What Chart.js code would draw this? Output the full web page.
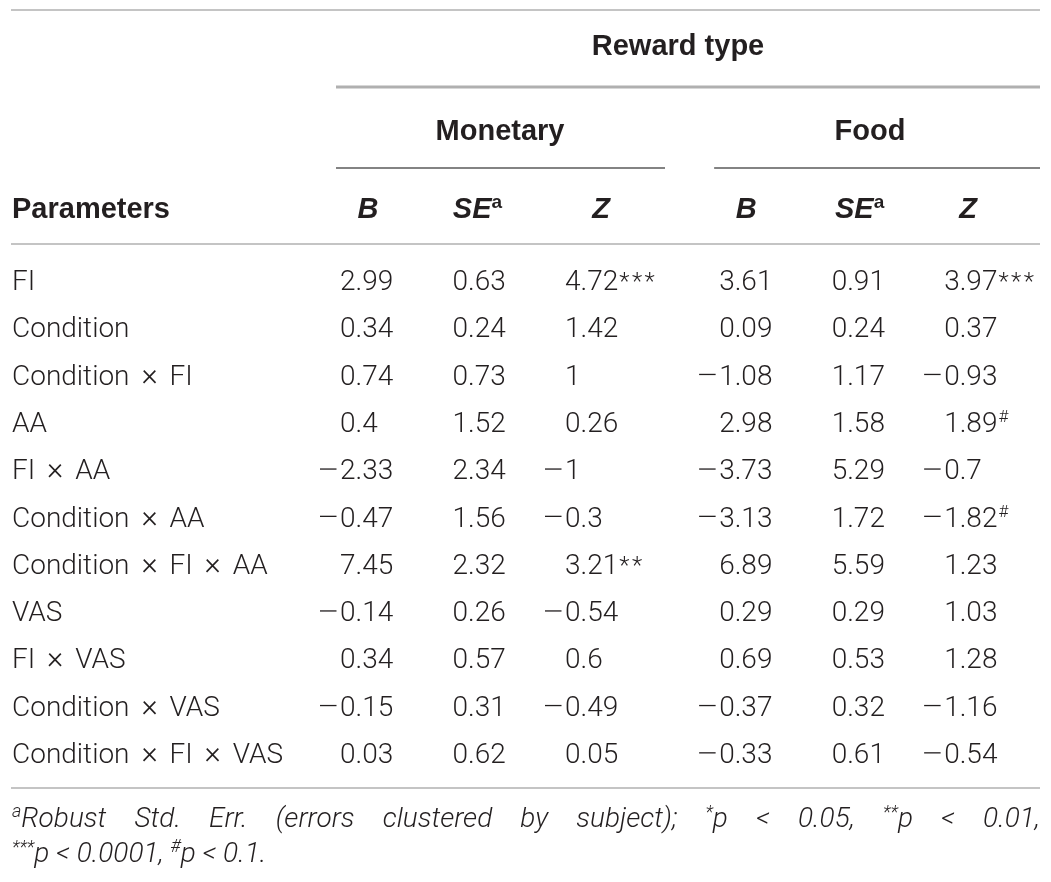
<!DOCTYPE html>
<html>
<head>
<meta charset="utf-8">
<script src="https://cdn.jsdelivr.net/npm/chart.js@4.4.1/dist/chart.umd.min.js"></script>
<style>
  html, body { margin: 0; padding: 0; background: #fff; }
  #wrap { width: 1051px; height: 882px; position: relative; }
</style>
</head>
<body>
<div id="wrap"><canvas id="tbl"></canvas></div>
<script>
// table values, read row by row
const parameters = [
  "FI",
  "Condition",
  "Condition × FI",
  "AA",
  "FI × AA",
  "Condition × AA",
  "Condition × FI × AA",
  "VAS",
  "FI × VAS",
  "Condition × VAS",
  "Condition × FI × VAS",
];
const monetaryB = [2.99, 0.34, 0.74, 0.4, -2.33, -0.47, 7.45, -0.14, 0.34, -0.15, 0.03];
const monetarySE = [0.63, 0.24, 0.73, 1.52, 2.34, 1.56, 2.32, 0.26, 0.57, 0.31, 0.62];
const monetaryZ = [4.72, 1.42, 1, 0.26, -1, -0.3, 3.21, -0.54, 0.6, -0.49, 0.05];
const monetaryZSig = ["***", "", "", "", "", "", "**", "", "", "", ""];
const foodB = [3.61, 0.09, -1.08, 2.98, -3.73, -3.13, 6.89, 0.29, 0.69, -0.37, -0.33];
const foodSE = [0.91, 0.24, 1.17, 1.58, 5.29, 1.72, 5.59, 0.29, 0.53, 0.32, 0.61];
const foodZ = [3.97, 0.37, -0.93, 1.89, -0.7, -1.82, 1.23, 1.03, 1.28, -1.16, -0.54];
const foodZSig = ["***", "", "", "#", "", "#", "", "", "", "", ""];
const groups = ["Monetary", "Food"];
const columnHeads = ["B", "SE", "Z"];

const INK = "#231f20";
const BODY = "300 28px Roboto";
const BOLD = "bold 29px 'Liberation Sans'";
const BOLDIT = "italic bold 29px 'Liberation Sans'";

// column slot on the x scale: 3 columns per group, food group shifted a bit
function slot(g, c) { return g * 3 + c + (g ? 0.37 : 0); }

const columns = [
  { values: monetaryB, g: 0, c: 0 },
  { values: monetarySE, g: 0, c: 1 },
  { values: monetaryZ, sig: monetaryZSig, g: 0, c: 2 },
  { values: foodB, g: 1, c: 0 },
  { values: foodSE, g: 1, c: 1 },
  { values: foodZ, sig: foodZSig, g: 1, c: 2 },
];

const datasets = columns.map((col) => ({
  label: groups[col.g] + " " + columnHeads[col.c],
  data: col.values.map((v, i) => ({ x: slot(col.g, col.c), y: i })),
  values: col.values,
  sig: col.sig || null,
  head: columnHeads[col.c],
  pointRadius: 0,
  showLine: false,
}));

function fmt(v) { return String(Math.abs(v)); }

function hline(ctx, x1, x2, y, w, color) {
  ctx.save();
  ctx.strokeStyle = color;
  ctx.lineWidth = w;
  ctx.beginPath();
  ctx.moveTo(x1, y);
  ctx.lineTo(x2, y);
  ctx.stroke();
  ctx.restore();
}

// draw runs of text; each run {t, font, dy}
function runs(ctx, parts, x, y) {
  parts.forEach((p) => {
    ctx.font = p.font;
    ctx.fillText(p.t, x, y + (p.dy || 0));
    x += ctx.measureText(p.t).width + (p.gap || 0);
  });
  return x;
}
function runsWidth(ctx, parts) {
  let w = 0;
  parts.forEach((p) => { ctx.font = p.font; w += ctx.measureText(p.t).width + (p.gap || 0); });
  return w;
}

// row label with the wider "×" spacing of the original typesetting
function rowLabel(ctx, text, x, y) {
  const bits = text.split(" × ");
  bits.forEach((b, k) => {
    ctx.font = BODY;
    ctx.textAlign = "left";
    ctx.fillText(b, x, y);
    x += ctx.measureText(b).width;
    if (k < bits.length - 1) {
      ctx.font = "300 31px Roboto";
      ctx.textAlign = "center";
      ctx.fillText("×", x + 20, y);
      x += 40;
    }
  });
  ctx.textAlign = "left";
}

const headDx = [28, 25, 36, 27, 28, 24];

const tablePlugin = {
  id: "tableText",
  afterDatasetsDraw(chart) {
    const ctx = chart.ctx;
    const xs = chart.scales.x;
    const ys = chart.scales.y;
    const L = 11, R = 1040;
    ctx.save();
    ctx.fillStyle = INK;
    ctx.textBaseline = "alphabetic";

    // rules
    hline(ctx, L, R, 10, 2, "#c4c4c4");
    hline(ctx, xs.getPixelForValue(slot(0, 0)) - 4, R, 87, 3, "#b0b0b0");
    hline(ctx, xs.getPixelForValue(slot(0, 0)) - 4, 665, 168, 1.5, "#5a5a5a");
    hline(ctx, xs.getPixelForValue(slot(1, 0)) - 5, R, 168, 1.5, "#5a5a5a");
    hline(ctx, L, R, 244, 2, "#c4c4c4");
    hline(ctx, L, R, 788, 2, "#c4c4c4");

    // spanning headers
    ctx.font = BOLD;
    ctx.textAlign = "center";
    ctx.fillText("Reward type", 678, 55);
    ctx.fillText(groups[0], 500, 140);
    ctx.fillText(groups[1], 870, 140);
    ctx.textAlign = "left";
    ctx.fillText("Parameters", 12, 218);

    // column heads
    chart.data.datasets.forEach((ds, di) => {
      const meta = chart.getDatasetMeta(di);
      const cx = meta.data[0].x + headDx[di];
      const parts = [{ t: ds.head, font: BOLDIT }];
      if (ds.head === "SE") parts.push({ t: "a", font: "bold 19px 'Liberation Sans'", dy: -10 });
      const w = runsWidth(ctx, parts);
      runs(ctx, parts, cx - w / 2, 218);
    });

    // row labels
    parameters.forEach((p, i) => {
      rowLabel(ctx, p, 12, ys.getPixelForValue(i) + 10);
    });

    // cells
    chart.data.datasets.forEach((ds, di) => {
      const meta = chart.getDatasetMeta(di);
      meta.data.forEach((el, i) => {
        const v = ds.values[i];
        const y = el.y + 10;
        ctx.font = BODY;
        if (v < 0) ctx.fillRect(el.x - 20, y - 10.8, 16.5, 1.3);
        ctx.fillText(fmt(v), el.x, y);
        const s = ds.sig && ds.sig[i];
        if (s) {
          const w = ctx.measureText(fmt(v)).width;
          if (s === "#") {
            ctx.font = "300 17px Roboto";
            ctx.fillText(s, el.x + w + 1, y - 10);
          } else {
            ctx.font = "300 24px Roboto";
            ctx.fillText(s.split("").join("\u200a"), el.x + w + 1, y - 1);
          }
        }
      });
    });

    // footnote, first line justified
    const IT = "italic 300 28px Roboto";
    const SUP = "italic 300 18px Roboto";
    const words = [
      [{ t: "a", font: SUP, dy: -10 }, { t: "Robust", font: IT }],
      [{ t: "Std.", font: IT }],
      [{ t: "Err.", font: IT }],
      [{ t: "(errors", font: IT }],
      [{ t: "clustered", font: IT }],
      [{ t: "by", font: IT }],
      [{ t: "subject);", font: IT }],
      [{ t: "*", font: SUP, dy: -9 }, { t: "p", font: IT }],
      [{ t: "<", font: IT }],
      [{ t: "0.05,", font: IT }],
      [{ t: "**", font: SUP, dy: -9 }, { t: "p", font: IT }],
      [{ t: "<", font: IT }],
      [{ t: "0.01,", font: IT }],
    ];
    const total = words.reduce((a, w) => a + runsWidth(ctx, w), 0);
    const gap = (R - 12 - total) / (words.length - 1);
    let x = 12;
    words.forEach((w) => { x = runs(ctx, w, x, 827) + gap; });

    runs(ctx, [
      { t: "***", font: SUP, dy: -9 },
      { t: "p < 0.0001, ", font: IT },
      { t: "#", font: SUP, dy: -10 },
      { t: "p < 0.1.", font: IT },
    ], 12, 862);

    ctx.restore();
  },
};

const xMin = -340 / 112.5;
new Chart(document.getElementById("tbl"), {
  type: "scatter",
  data: { datasets: datasets },
  options: {
    responsive: true,
    maintainAspectRatio: false,
    animation: false,
    events: [],
    layout: { padding: { top: 280, bottom: 882 - 753, left: 0, right: 0 } },
    plugins: { legend: { display: false }, tooltip: { enabled: false } },
    scales: {
      x: { type: "linear", display: false, min: xMin, max: xMin + 1051 / 112.5 },
      y: { type: "linear", display: false, reverse: true, min: 0, max: parameters.length - 1 },
    },
  },
  plugins: [tablePlugin],
});
</script>
</body>
</html>
